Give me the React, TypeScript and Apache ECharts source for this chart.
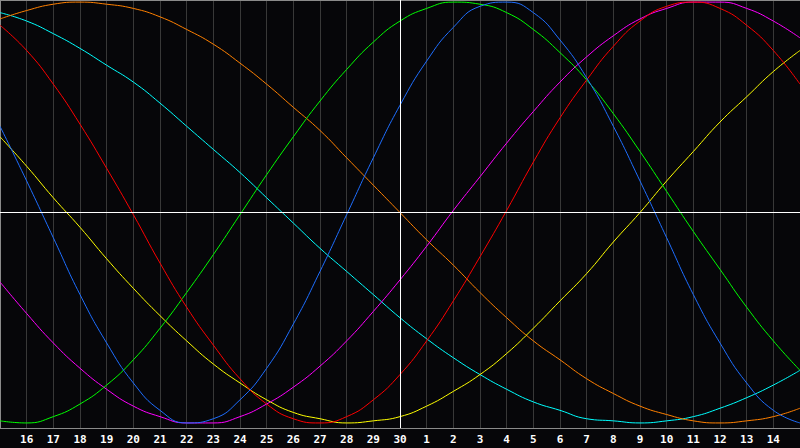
import React, { useEffect, useRef } from "react";
import * as echarts from "echarts";

const days: string[] = [
  "15", "16", "17", "18", "19", "20", "21", "22", "23", "24", "25", "26", "27", "28", "29", "30",
  "1", "2", "3", "4", "5", "6", "7", "8", "9", "10", "11", "12", "13", "14", "15",
];

const blueValues: number[] = [41, 15, -12, -39, -62, -81, -94, -100, -98, -89, -74, -53, -28, -1, 26, 51, 72, 88, 98, 100, 95, 82, 64, 41, 15, -12, -39, -62, -81, -94, -100];
const redValues: number[] = [89, 77, 61, 42, 21, -1, -24, -45, -63, -79, -91, -98, -100, -97, -89, -77, -61, -42, -21, 1, 24, 45, 63, 79, 91, 98, 100, 97, 89, 77, 61];
const greenValues: number[] = [-99, -100, -97, -91, -82, -70, -55, -38, -20, -1, 18, 36, 53, 68, 81, 91, 97, 100, 99, 95, 87, 76, 63, 47, 29, 10, -9, -27, -45, -61, -75];
const magentaValues: number[] = [-33, -48, -62, -74, -84, -92, -97, -100, -100, -97, -91, -83, -73, -61, -47, -32, -16, 1, 17, 33, 48, 62, 74, 84, 92, 97, 100, 100, 97, 91, 83];
const yellowValues: number[] = [36, 22, 7, -7, -22, -36, -49, -61, -72, -81, -89, -95, -98, -100, -99, -97, -92, -85, -77, -67, -55, -42, -29, -14, 0, 15, 29, 43, 55, 67, 77];
const orangeValues: number[] = [92, 96, 99, 100, 99, 97, 93, 87, 80, 71, 61, 50, 39, 26, 13, 0, -13, -25, -38, -50, -61, -70, -79, -86, -92, -96, -99, -100, -99, -97, -93];
const cyanValues: number[] = [95, 91, 85, 78, 70, 62, 52, 41, 30, 19, 7, -5, -17, -28, -39, -50, -60, -69, -77, -84, -90, -94, -98, -99, -100, -99, -97, -93, -88, -82, -75];

const seriesDefs: { name: string; color: string; data: number[] }[] = [
  { name: "cyan", color: "#00ffff", data: cyanValues },
  { name: "orange", color: "#ff8000", data: orangeValues },
  { name: "yellow", color: "#ffff00", data: yellowValues },
  { name: "magenta", color: "#ff00ff", data: magentaValues },
  { name: "green", color: "#00ff00", data: greenValues },
  { name: "red", color: "#ff0000", data: redValues },
  { name: "blue", color: "#1e6eff", data: blueValues },
];

export default function App() {
  const ref = useRef<HTMLDivElement>(null);
  useEffect(() => {
    if (!ref.current) return;
    const chart = echarts.init(ref.current, undefined, { renderer: "svg" });
    const series: any[] = seriesDefs.map((s) => ({
      name: s.name,
      type: "line",
      data: s.data,
      smooth: 0.5,
      smoothConstraint: false,
      symbol: "none",
      lineStyle: { color: s.color, width: 1 },
      itemStyle: { color: s.color },
      z: 3,
    }));
    series.unshift({
      type: "line",
      data: [],
      markLine: {
        silent: true,
        symbol: "none",
        animation: false,
        label: { show: false },
        lineStyle: { color: "#ffffff", width: 1, type: "solid" },
        data: [{ yAxis: 0 }, { xAxis: "30" }],
      },
      z: 2,
    });
    const lastIndex = days.length - 1;
    chart.setOption({
      animation: false,
      backgroundColor: "#060609",
      grid: { left: 0, right: 0, top: 0, bottom: 20, outerBoundsMode: "none", containLabel: false },
      xAxis: [
        {
          type: "category",
          data: days,
          boundaryGap: false,
          axisLine: { show: true, onZero: false, lineStyle: { color: "#8a8a8a", width: 1 } },
          axisTick: { show: false },
          axisLabel: {
            interval: 0,
            hideOverlap: false,
            formatter: (v: string, i: number) => (i === 0 || i === lastIndex ? "" : v),
            color: "#ffffff",
            fontFamily: "DejaVu Sans Mono",
            fontWeight: "bold",
            fontSize: 11,
            margin: 6,
          },
          splitLine: { show: true, interval: 0, lineStyle: { color: "#383838", width: 1 } },
        },
        {
          type: "category",
          data: days,
          boundaryGap: false,
          position: "top",
          axisLine: { show: true, onZero: false, lineStyle: { color: "#8a8a8a", width: 1 } },
          axisTick: { show: false },
          axisLabel: { show: false },
          splitLine: { show: false },
        },
      ],
      yAxis: {
        type: "value",
        min: -102.4,
        max: 101,
        axisLine: { show: true, lineStyle: { color: "#8a8a8a", width: 1 } },
        axisTick: { show: false },
        axisLabel: { show: false },
        splitLine: { show: false },
      },
      series,
    });
    return () => chart.dispose();
  }, []);
  return (
    <div
      ref={ref}
      style={{ position: "fixed", left: 0, top: 0, width: 800, height: 448 }}
    />
  );
}
